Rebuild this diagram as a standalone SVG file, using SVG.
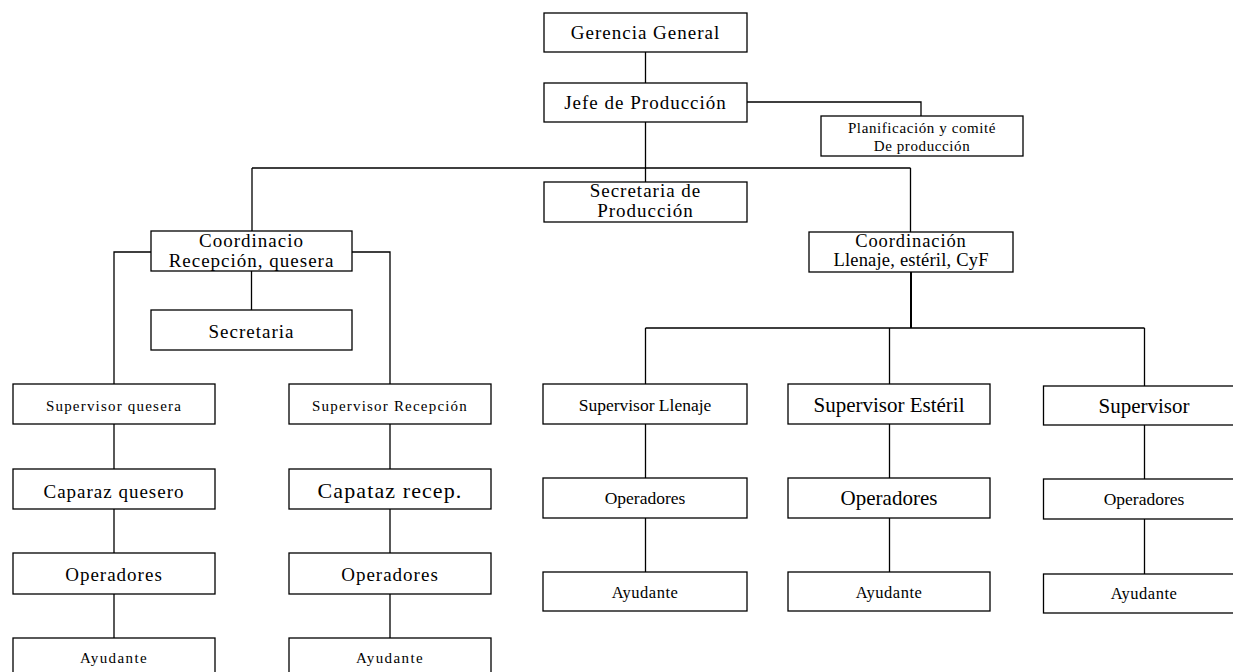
<svg xmlns="http://www.w3.org/2000/svg" width="1233" height="672" viewBox="0 0 1233 672">
<style>
rect{fill:#fff;stroke:#000;stroke-width:1.3}
.c{fill:none;stroke:#000;stroke-width:1.3}
text{font-family:"Liberation Serif","Times New Roman",serif;fill:#000;text-anchor:middle}
.a{font-size:19px;letter-spacing:1px}
.b{font-size:15px;letter-spacing:1.2px}
.d{font-size:15px;letter-spacing:0.6px}
.e{font-size:17.5px}
.f{font-size:21px}
.g{font-size:16.5px;letter-spacing:0.5px}
</style>
<rect x="0" y="0" width="1233" height="672" style="fill:#fff;stroke:none"/>
<g id="connectors">
<path class="c" d="M645.5 52V83M645.5 122V182M747 102H921V116M252 168H910.5M252 168V231M910.5 168V232"/>
<path class="c" d="M151 252H114V384M352 252H390V384M251.5 271V310"/>
<path class="c" d="M114 424V469M114 509V553M114 594V638M390 424V469M390 509V553M390 594V638"/>
<path class="c" style="stroke-width:2" d="M911 272V328"/>
<path class="c" d="M645.5 328H1144.5M645.5 328V384M889.5 328V384M1144.5 328V386"/>
<path class="c" d="M645.5 424V478M645.5 518V572M889.5 424V478M889.5 518V572M1144.5 425V479M1144.5 519V574"/>
</g>
<g id="gerencia"><rect x="544" y="13" width="203" height="39"/><text class="a" x="645.5" y="39">Gerencia General</text></g>
<g id="jefe"><rect x="544" y="83" width="203" height="39"/><text class="a" x="645.5" y="109">Jefe de Producción</text></g>
<g id="planificacion"><rect x="821" y="116" width="202" height="40"/><text class="d" x="922" y="132.5">Planificación y comité</text><text class="d" x="922" y="151">De producción</text></g>
<g id="secretaria-produccion"><rect x="544" y="182" width="203" height="40"/><text class="a" x="645.5" y="197">Secretaria de</text><text class="a" x="645.5" y="217">Producción</text></g>
<g id="coord-recepcion"><rect x="151" y="231" width="201" height="40"/><text class="a" x="251.5" y="247.3">Coordinacio</text><text class="a" x="251.5" y="266.7">Recepción, quesera</text></g>
<g id="secretaria"><rect x="151" y="310" width="201" height="40"/><text class="a" x="251.5" y="338.3">Secretaria</text></g>
<g id="coord-llenaje"><rect x="809" y="232" width="204" height="40"/><text x="911" y="246.5" style="font-size:18.5px;letter-spacing:0.9px">Coordinación</text><text x="911" y="266" style="font-size:18.5px;letter-spacing:0.2px">Llenaje, estéril, CyF</text></g>
<g id="sup-quesera"><rect x="13" y="384" width="202" height="40"/><text class="b" x="114" y="410.7">Supervisor quesera</text></g>
<g id="sup-recepcion"><rect x="289" y="384" width="202" height="40"/><text class="b" x="390" y="410.7">Supervisor Recepción</text></g>
<g id="caparaz"><rect x="13" y="469" width="202" height="40"/><text class="a" x="114" y="497.7">Caparaz quesero</text></g>
<g id="capataz"><rect x="289" y="469" width="202" height="40"/><text x="390" y="498.3" style="font-size:22px;letter-spacing:1.1px">Capataz recep.</text></g>
<g id="oper-q"><rect x="13" y="553" width="202" height="41"/><text class="a" x="114" y="581">Operadores</text></g>
<g id="oper-r"><rect x="289" y="553" width="202" height="41"/><text class="a" x="390" y="581">Operadores</text></g>
<g id="ayu-q"><rect x="13" y="638" width="202" height="40"/><text class="b" x="114" y="663.3" style="letter-spacing:1.4px">Ayudante</text></g>
<g id="ayu-r"><rect x="289" y="638" width="202" height="40"/><text class="b" x="390" y="663.3" style="letter-spacing:1.4px">Ayudante</text></g>
<g id="sup-llenaje"><rect x="543" y="384" width="204" height="40"/><text class="e" x="645" y="410.7">Supervisor Llenaje</text></g>
<g id="sup-esteril"><rect x="788" y="384" width="202" height="40"/><text class="f" x="889" y="412.3">Supervisor Estéril</text></g>
<g id="sup-3"><rect x="1043.5" y="386" width="202" height="39"/><text class="f" x="1144" y="412.7">Supervisor</text></g>
<g id="oper-l"><rect x="543" y="478" width="204" height="40"/><text class="e" x="645" y="503.7">Operadores</text></g>
<g id="oper-e"><rect x="788" y="478" width="202" height="40"/><text class="f" x="889" y="505.3">Operadores</text></g>
<g id="oper-3"><rect x="1043.5" y="479" width="202" height="40"/><text class="e" x="1144" y="505.3">Operadores</text></g>
<g id="ayu-l"><rect x="543" y="572" width="204" height="39"/><text class="g" x="645" y="597.7">Ayudante</text></g>
<g id="ayu-e"><rect x="788" y="572" width="202" height="39"/><text class="g" x="889" y="597.7">Ayudante</text></g>
<g id="ayu-3"><rect x="1043.5" y="574" width="202" height="39"/><text class="g" x="1144" y="598.7">Ayudante</text></g>
</svg>
